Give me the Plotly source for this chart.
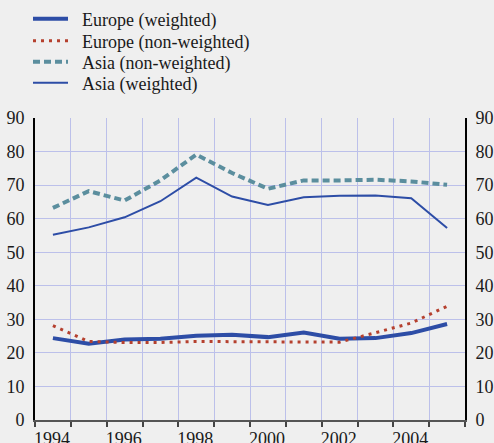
import plotly.graph_objects as go

years = list(range(1994, 2006))
europe_weighted = [24.4, 22.7, 24.0, 24.2, 25.1, 25.4, 24.7, 26.1, 24.2, 24.4, 25.9, 28.6]
europe_nonweighted = [28.1, 23.4, 23.1, 23.1, 23.4, 23.4, 23.4, 23.4, 23.2, 26.0, 28.9, 33.9]
asia_nonweighted = [63.2, 68.2, 65.4, 71.4, 79.1, 73.6, 68.9, 71.4, 71.4, 71.6, 71.1, 70.1]
asia_weighted = [55.2, 57.4, 60.4, 65.2, 72.2, 66.6, 64.1, 66.4, 66.8, 66.9, 66.1, 57.2]

label_years = [1994, 1996, 1998, 2000, 2002, 2004]
y_ticks = list(range(0, 91, 10))

BLUE = "#2d4da6"
RED = "#b5402e"
TEAL = "#5b8e9e"
GRID = "#bcc0ea"
BG = "#efefef"
FONT = "Liberation Serif, Times New Roman, serif"
PAD = "\u00a0\u00a0"

fig = go.Figure()
fig.add_trace(go.Scatter(x=years, y=europe_weighted, mode="lines", name=PAD + "Europe (weighted)",
                         line=dict(color=BLUE, width=4), legend="legend"))
fig.add_trace(go.Scatter(x=years, y=europe_nonweighted, mode="lines", name=PAD + "Europe (non-weighted)",
                         line=dict(color=RED, width=3, dash="3px,5px"), legend="legend2"))
fig.add_trace(go.Scatter(x=years, y=asia_nonweighted, mode="lines", name=PAD + "Asia (non-weighted)",
                         line=dict(color=TEAL, width=4, dash="7px,4px"), legend="legend3"))
fig.add_trace(go.Scatter(x=years, y=asia_weighted, mode="lines", name=PAD + "Asia (weighted)",
                         line=dict(color=BLUE, width=2), yaxis="y2", legend="legend4"))

H = 443
row_centers = [19, 41, 62, 83]


def leg(yc):
    return dict(xref="container", yref="container", x=28 / 494, y=1 - yc / H,
                xanchor="left", yanchor="middle", bgcolor="rgba(0,0,0,0)",
                font=dict(size=18, family=FONT, color="#1a1a1a"), itemwidth=35)


fig.update_layout(
    width=494, height=443,
    paper_bgcolor=BG, plot_bgcolor=BG,
    margin=dict(l=35, r=29, t=118, b=23, autoexpand=False),
    font=dict(family=FONT, size=18, color="#1a1a1a"),
    showlegend=True,
    legend=leg(row_centers[0]),
    legend2=leg(row_centers[1]),
    legend3=leg(row_centers[2]),
    legend4=leg(row_centers[3]),
    xaxis=dict(range=[1993.5, 2005.5], tickmode="array",
               tickvals=[y - 0.5 for y in label_years],
               ticktext=[str(y) for y in label_years], tickangle=0, automargin=False,
               ticklabelshift=17, ticks="outside", ticklen=5, tickcolor="#444", tickwidth=1.5,
               showgrid=True, gridcolor=GRID, gridwidth=1,
               minor=dict(tickmode="linear", tick0=1993.5, dtick=1, ticks="outside", ticklen=5,
                          tickcolor="#444", tickwidth=1.5, showgrid=True, gridcolor=GRID, gridwidth=1),
               showline=True, linecolor="#555", linewidth=2, zeroline=False,
               tickfont=dict(size=18, family=FONT), ticklabelstandoff=-4),
    yaxis=dict(range=[0, 90], tickmode="array", tickvals=y_ticks, automargin=False,
               showgrid=True, gridcolor=GRID, gridwidth=1, zeroline=False,
               showline=True, linecolor="#000", linewidth=2, ticks="",
               tickfont=dict(size=18, family=FONT), ticklabelstandoff=5),
    yaxis2=dict(range=[0, 90], tickmode="array", tickvals=y_ticks, overlaying="y", side="right",
                automargin=False,
                showgrid=False, zeroline=False, showline=True, linecolor="#000", linewidth=2, ticks="",
                tickfont=dict(size=18, family=FONT), ticklabelstandoff=5),
)

fig.write_html("out.html", config={"displayModeBar": False},
               post_script="document.body.style.margin='0px';")
